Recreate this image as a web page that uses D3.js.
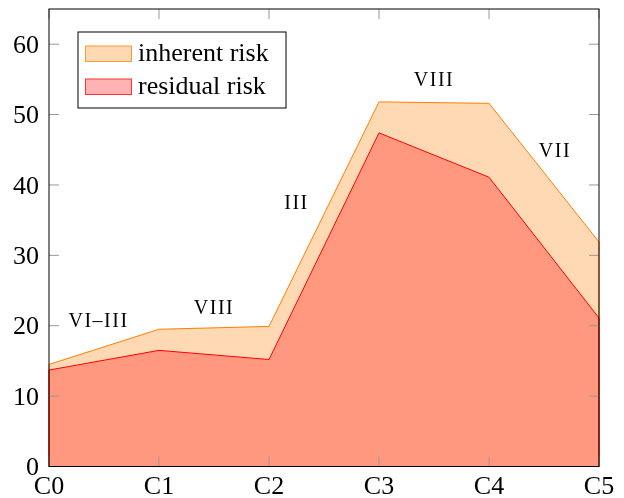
<!DOCTYPE html>
<html>
  <head>
    <meta charset="utf-8" />
    <script src="https://d3js.org/d3.v7.min.js"></script>
    <style>
      body {
        margin: 0px;
        background: #fff;
      }
    </style>
  </head>
  <body>
    <svg width="624" height="498"></svg>
    <script>
      const categories = ["C0", "C1", "C2", "C3", "C4", "C5"];
      const inherent = [14.5, 19.5, 19.9, 51.8, 51.6, 31.9];
      const residual = [13.7, 16.5, 15.2, 47.4, 41.1, 21.1];
      const yTicks = [0, 10, 20, 30, 40, 50, 60];

      // roman numeral notes: position in category index / value units
      const noteText = ["VI–III", "VIII", "III", "VIII", "VII"];
      const noteX = [0.45, 1.5, 2.25, 3.5, 4.6];
      const noteY = [19.8, 21.6, 36.6, 54.1, 44.0];

      const serif = '"Liberation Serif"';
      const margin = { left: 49, right: 25, top: 9, bottom: 31.5 };
      const svg = d3.select("svg");
      const width = +svg.attr("width");
      const height = +svg.attr("height");
      const innerWidth = width - margin.left - margin.right;
      const innerHeight = height - margin.top - margin.bottom;

      // big serif text: rendered at 24px and scaled up (larger sizes fell back to sans)
      function bigText(parent, x, y, str, anchor, dy) {
        return parent
          .append("text")
          .attr("transform", `translate(${x},${y}) scale(${26 / 24})`)
          .attr("dy", dy || 0)
          .attr("text-anchor", anchor)
          .style("font-family", serif)
          .style("font-size", "24px")
          .text(str);
      }

      const g = svg
        .append("g")
        .attr("transform", `translate(${margin.left},${margin.top})`);

      const xScale = d3
        .scaleLinear()
        .domain([0, categories.length - 1])
        .range([0, innerWidth]);
      const yScale = d3.scaleLinear().domain([0, 65]).range([innerHeight, 0]);

      const area = d3
        .area()
        .x((d, i) => xScale(i))
        .y0(yScale(0))
        .y1((d) => yScale(d));

      // inherent risk area
      g.append("path")
        .datum(inherent)
        .attr("d", area)
        .attr("fill", "#ffd9b3")
        .attr("stroke", "#ff8000")
        .attr("stroke-width", 1);

      // residual risk area, multiplied over the inherent one
      g.append("path")
        .datum(residual)
        .attr("d", area)
        .attr("fill", "#ffb3b3")
        .style("mix-blend-mode", "multiply")
        .attr("stroke", "#ff0000")
        .attr("stroke-width", 1);

      // ticks (inside, on all four sides)
      const tickColor = "#999";
      yTicks.forEach((t) => {
        const y = yScale(t);
        g.append("line")
          .attr("x1", 0).attr("x2", 10)
          .attr("y1", y).attr("y2", y)
          .attr("stroke", tickColor);
        g.append("line")
          .attr("x1", innerWidth - 10).attr("x2", innerWidth)
          .attr("y1", y).attr("y2", y)
          .attr("stroke", tickColor);
        bigText(g, -10, y, t, "end", "0.33em");
      });
      categories.forEach((c, i) => {
        const x = xScale(i);
        g.append("line")
          .attr("x1", x).attr("x2", x)
          .attr("y1", innerHeight - 10).attr("y2", innerHeight)
          .attr("stroke", tickColor);
        g.append("line")
          .attr("x1", x).attr("x2", x)
          .attr("y1", 0).attr("y2", 10)
          .attr("stroke", tickColor);
        bigText(g, x, innerHeight + 27.5, c, "middle");
      });

      // frame
      g.append("rect")
        .attr("width", innerWidth)
        .attr("height", innerHeight)
        .attr("fill", "none")
        .attr("stroke", "#000")
        .attr("stroke-width", 1);

      // notes
      noteText.forEach((t, i) => {
        g.append("text")
          .attr("x", xScale(noteX[i]))
          .attr("y", yScale(noteY[i]))
          .attr("text-anchor", "middle")
          .style("font-family", serif)
          .style("font-size", "20px")
          .style("letter-spacing", "1.5px")
          .text(t);
      });

      // legend
      const legend = svg.append("g").attr("transform", "translate(78,32)");
      legend
        .append("rect")
        .attr("width", 208)
        .attr("height", 76)
        .attr("fill", "#fff")
        .attr("stroke", "#000");
      const legendItems = [
        { label: "inherent risk", fill: "#ffd9b3", stroke: "#ff9a33" },
        { label: "residual risk", fill: "#ffb3b3", stroke: "#ff3333" },
      ];
      legendItems.forEach((d, i) => {
        legend
          .append("rect")
          .attr("x", 7.5)
          .attr("y", 14 + i * 33)
          .attr("width", 46)
          .attr("height", 15.5)
          .attr("fill", d.fill)
          .attr("stroke", d.stroke);
        bigText(legend, 60, 29 + i * 32.5, d.label, "start");
      });
    </script>
  </body>
</html>
